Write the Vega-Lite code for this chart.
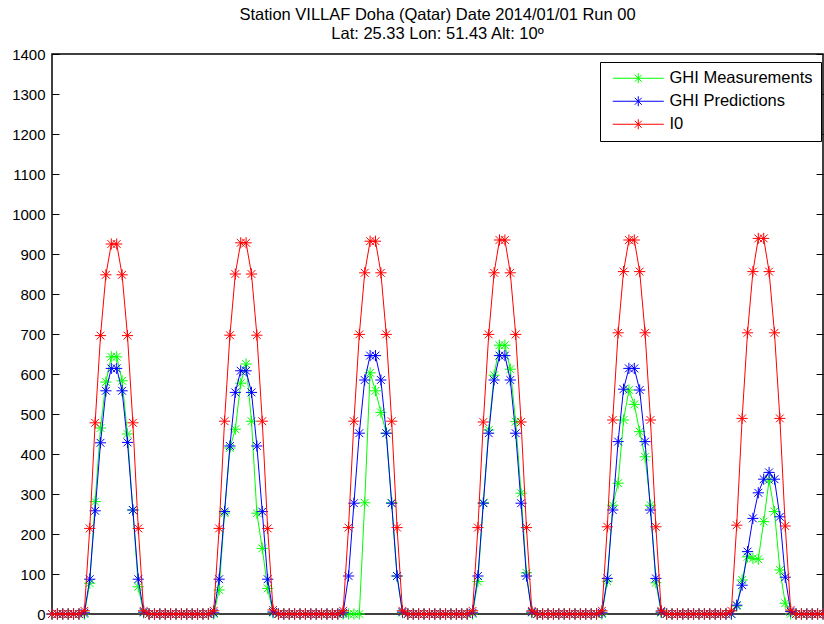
{
"$schema": "https://vega.github.io/schema/vega-lite/v6.json",
"width": 771,
"height": 560,
"autosize": "none",
"padding": {"left": 52, "top": 54, "right": 1, "bottom": 10},
"background": "white",
"config": {"view": {"stroke": "black", "strokeWidth": 1.5}, "font": "Liberation Sans"},
"title": {"text": ["Station VILLAF Doha (Qatar) Date 2014/01/01 Run 00", "Lat: 25.33 Lon: 51.43 Alt: 10º"], "anchor": "middle", "fontSize": 16.5, "fontWeight": "normal", "font": "Liberation Sans", "color": "black", "offset": 5, "lineHeight": 19},
"datasets": {
"meas": [{"t":1,"v":0},{"t":2,"v":0},{"t":3,"v":0},{"t":4,"v":0},{"t":5,"v":0},{"t":6,"v":0},
{"t":7,"v":0},{"t":8,"v":77},{"t":9,"v":281},{"t":10,"v":465},{"t":11,"v":580},{"t":12,"v":643},{"t":13,"v":643},{"t":14,"v":583},{"t":15,"v":450},{"t":16,"v":260},{"t":17,"v":68},{"t":18,"v":3},
{"t":19,"v":0},{"t":20,"v":0},{"t":21,"v":0},{"t":22,"v":0},{"t":23,"v":0},{"t":24,"v":0},{"t":25,"v":0},{"t":26,"v":0},{"t":27,"v":0},{"t":28,"v":0},{"t":29,"v":0},{"t":30,"v":0},
{"t":31,"v":0},{"t":32,"v":60},{"t":33,"v":252},{"t":34,"v":415},{"t":35,"v":462},{"t":36,"v":577},{"t":37,"v":625},{"t":38,"v":482},{"t":39,"v":252},{"t":40,"v":164},{"t":41,"v":64},{"t":42,"v":3},
{"t":43,"v":0},{"t":44,"v":0},{"t":45,"v":0},{"t":46,"v":0},{"t":47,"v":0},{"t":48,"v":0},{"t":49,"v":0},{"t":50,"v":0},{"t":51,"v":0},{"t":52,"v":0},{"t":53,"v":0},{"t":54,"v":0},
{"t":55,"v":0},{"t":56,"v":0},{"t":57,"v":0},{"t":58,"v":0},{"t":59,"v":278},{"t":60,"v":603},{"t":61,"v":558},{"t":62,"v":504},{"t":63,"v":452},{"t":64,"v":278},{"t":65,"v":95},{"t":66,"v":3},
{"t":67,"v":0},{"t":68,"v":0},{"t":69,"v":0},{"t":70,"v":0},{"t":71,"v":0},{"t":72,"v":0},{"t":73,"v":0},{"t":74,"v":0},{"t":75,"v":0},{"t":76,"v":0},{"t":77,"v":0},{"t":78,"v":0},
{"t":79,"v":0},{"t":80,"v":81},{"t":81,"v":278},{"t":82,"v":460},{"t":83,"v":597},{"t":84,"v":672},{"t":85,"v":672},{"t":86,"v":612},{"t":87,"v":481},{"t":88,"v":302},{"t":89,"v":103},{"t":90,"v":3},
{"t":91,"v":0},{"t":92,"v":0},{"t":93,"v":0},{"t":94,"v":0},{"t":95,"v":0},{"t":96,"v":0},{"t":97,"v":0},{"t":98,"v":0},{"t":99,"v":0},{"t":100,"v":0},{"t":101,"v":0},{"t":102,"v":0},
{"t":103,"v":0},{"t":104,"v":82},{"t":105,"v":272},{"t":106,"v":327},{"t":107,"v":485},{"t":108,"v":560},{"t":109,"v":524},{"t":110,"v":456},{"t":111,"v":393},{"t":112,"v":272},{"t":113,"v":78},{"t":114,"v":3},
{"t":115,"v":0},{"t":116,"v":0},{"t":117,"v":0},{"t":118,"v":0},{"t":119,"v":0},{"t":120,"v":0},{"t":121,"v":0},{"t":122,"v":0},{"t":123,"v":0},{"t":124,"v":0},{"t":125,"v":0},{"t":126,"v":0},
{"t":127,"v":0},{"t":128,"v":20},{"t":129,"v":85},{"t":130,"v":143},{"t":131,"v":139},{"t":132,"v":137},{"t":133,"v":231},{"t":134,"v":335},{"t":135,"v":256},{"t":136,"v":110},{"t":137,"v":27},{"t":138,"v":0},
{"t":139,"v":0},{"t":140,"v":0},{"t":141,"v":0},{"t":142,"v":0},{"t":143,"v":0},{"t":144,"v":0}],
"pred": [{"t":1,"v":0},{"t":2,"v":0},{"t":3,"v":0},{"t":4,"v":0},{"t":5,"v":0},{"t":6,"v":0},
{"t":7,"v":3},{"t":8,"v":87},{"t":9,"v":258},{"t":10,"v":428},{"t":11,"v":558},{"t":12,"v":614},{"t":13,"v":614},{"t":14,"v":558},{"t":15,"v":429},{"t":16,"v":260},{"t":17,"v":87},{"t":18,"v":5},
{"t":19,"v":0},{"t":20,"v":0},{"t":21,"v":0},{"t":22,"v":0},{"t":23,"v":0},{"t":24,"v":0},{"t":25,"v":0},{"t":26,"v":0},{"t":27,"v":0},{"t":28,"v":0},{"t":29,"v":0},{"t":30,"v":0},
{"t":31,"v":3},{"t":32,"v":87},{"t":33,"v":256},{"t":34,"v":420},{"t":35,"v":554},{"t":36,"v":608},{"t":37,"v":608},{"t":38,"v":554},{"t":39,"v":420},{"t":40,"v":256},{"t":41,"v":87},{"t":42,"v":5},
{"t":43,"v":0},{"t":44,"v":0},{"t":45,"v":0},{"t":46,"v":0},{"t":47,"v":0},{"t":48,"v":0},{"t":49,"v":0},{"t":50,"v":0},{"t":51,"v":0},{"t":52,"v":0},{"t":53,"v":0},{"t":54,"v":0},
{"t":55,"v":3},{"t":56,"v":95},{"t":57,"v":277},{"t":58,"v":452},{"t":59,"v":585},{"t":60,"v":646},{"t":61,"v":646},{"t":62,"v":585},{"t":63,"v":452},{"t":64,"v":277},{"t":65,"v":95},{"t":66,"v":5},
{"t":67,"v":0},{"t":68,"v":0},{"t":69,"v":0},{"t":70,"v":0},{"t":71,"v":0},{"t":72,"v":0},{"t":73,"v":0},{"t":74,"v":0},{"t":75,"v":0},{"t":76,"v":0},{"t":77,"v":0},{"t":78,"v":0},
{"t":79,"v":3},{"t":80,"v":95},{"t":81,"v":277},{"t":82,"v":452},{"t":83,"v":585},{"t":84,"v":646},{"t":85,"v":646},{"t":86,"v":585},{"t":87,"v":452},{"t":88,"v":277},{"t":89,"v":95},{"t":90,"v":5},
{"t":91,"v":0},{"t":92,"v":0},{"t":93,"v":0},{"t":94,"v":0},{"t":95,"v":0},{"t":96,"v":0},{"t":97,"v":0},{"t":98,"v":0},{"t":99,"v":0},{"t":100,"v":0},{"t":101,"v":0},{"t":102,"v":0},
{"t":103,"v":3},{"t":104,"v":89},{"t":105,"v":260},{"t":106,"v":431},{"t":107,"v":562},{"t":108,"v":614},{"t":109,"v":614},{"t":110,"v":560},{"t":111,"v":431},{"t":112,"v":260},{"t":113,"v":89},{"t":114,"v":5},
{"t":115,"v":0},{"t":116,"v":0},{"t":117,"v":0},{"t":118,"v":0},{"t":119,"v":0},{"t":120,"v":0},{"t":121,"v":0},{"t":122,"v":0},{"t":123,"v":0},{"t":124,"v":0},{"t":125,"v":0},{"t":126,"v":0},
{"t":127,"v":0},{"t":128,"v":22},{"t":129,"v":72},{"t":130,"v":156},{"t":131,"v":239},{"t":132,"v":303},{"t":133,"v":337},{"t":134,"v":354},{"t":135,"v":337},{"t":136,"v":243},{"t":137,"v":92},{"t":138,"v":6},
{"t":139,"v":0},{"t":140,"v":0},{"t":141,"v":0},{"t":142,"v":0},{"t":143,"v":0},{"t":144,"v":0}],
"i0": [{"t":1,"v":0},{"t":2,"v":0},{"t":3,"v":0},{"t":4,"v":0},{"t":5,"v":0},{"t":6,"v":0},
{"t":7,"v":8},{"t":8,"v":214},{"t":9,"v":478},{"t":10,"v":696},{"t":11,"v":848},{"t":12,"v":925},{"t":13,"v":925},{"t":14,"v":848},{"t":15,"v":696},{"t":16,"v":478},{"t":17,"v":214},{"t":18,"v":8},
{"t":19,"v":0},{"t":20,"v":0},{"t":21,"v":0},{"t":22,"v":0},{"t":23,"v":0},{"t":24,"v":0},{"t":25,"v":0},{"t":26,"v":0},{"t":27,"v":0},{"t":28,"v":0},{"t":29,"v":0},{"t":30,"v":0},
{"t":31,"v":8},{"t":32,"v":214},{"t":33,"v":482},{"t":34,"v":697},{"t":35,"v":850},{"t":36,"v":928},{"t":37,"v":928},{"t":38,"v":850},{"t":39,"v":697},{"t":40,"v":482},{"t":41,"v":214},{"t":42,"v":10},
{"t":43,"v":0},{"t":44,"v":0},{"t":45,"v":0},{"t":46,"v":0},{"t":47,"v":0},{"t":48,"v":0},{"t":49,"v":0},{"t":50,"v":0},{"t":51,"v":0},{"t":52,"v":0},{"t":53,"v":0},{"t":54,"v":0},
{"t":55,"v":8},{"t":56,"v":216},{"t":57,"v":482},{"t":58,"v":699},{"t":59,"v":853},{"t":60,"v":932},{"t":61,"v":932},{"t":62,"v":853},{"t":63,"v":699},{"t":64,"v":482},{"t":65,"v":216},{"t":66,"v":8},
{"t":67,"v":0},{"t":68,"v":0},{"t":69,"v":0},{"t":70,"v":0},{"t":71,"v":0},{"t":72,"v":0},{"t":73,"v":0},{"t":74,"v":0},{"t":75,"v":0},{"t":76,"v":0},{"t":77,"v":0},{"t":78,"v":0},
{"t":79,"v":8},{"t":80,"v":216},{"t":81,"v":480},{"t":82,"v":699},{"t":83,"v":853},{"t":84,"v":935},{"t":85,"v":935},{"t":86,"v":853},{"t":87,"v":699},{"t":88,"v":480},{"t":89,"v":216},{"t":90,"v":8},
{"t":91,"v":0},{"t":92,"v":0},{"t":93,"v":0},{"t":94,"v":0},{"t":95,"v":0},{"t":96,"v":0},{"t":97,"v":0},{"t":98,"v":0},{"t":99,"v":0},{"t":100,"v":0},{"t":101,"v":0},{"t":102,"v":0},
{"t":103,"v":8},{"t":104,"v":218},{"t":105,"v":485},{"t":106,"v":703},{"t":107,"v":856},{"t":108,"v":935},{"t":109,"v":935},{"t":110,"v":856},{"t":111,"v":703},{"t":112,"v":485},{"t":113,"v":218},{"t":114,"v":8},
{"t":115,"v":0},{"t":116,"v":0},{"t":117,"v":0},{"t":118,"v":0},{"t":119,"v":0},{"t":120,"v":0},{"t":121,"v":0},{"t":122,"v":0},{"t":123,"v":0},{"t":124,"v":0},{"t":125,"v":0},{"t":126,"v":0},
{"t":127,"v":8},{"t":128,"v":222},{"t":129,"v":489},{"t":130,"v":703},{"t":131,"v":856},{"t":132,"v":939},{"t":133,"v":939},{"t":134,"v":856},{"t":135,"v":703},{"t":136,"v":489},{"t":137,"v":220},{"t":138,"v":10},
{"t":139,"v":0},{"t":140,"v":0},{"t":141,"v":0},{"t":142,"v":0},{"t":143,"v":0},{"t":144,"v":0}]
},
"resolve": {"scale": {"y": "shared", "x": "shared", "color": "shared"}, "axis": {"y": "independent"}},
"layer": [
{"data": {"name": "meas"}, "mark": {"type": "line", "strokeWidth": 1, "clip": false},
 "encoding": {
  "x": {"field": "t", "type": "quantitative", "scale": {"domain": [1, 144], "nice": false, "zero": false}, "axis": null},
  "y": {"field": "v", "type": "quantitative", "scale": {"domain": [0, 1400], "nice": false}, "axis": {"orient": "left", "values": [0,100,200,300,400,500,600,700,800,900,1000,1100,1200,1300,1400], "format": "d", "title": null, "domain": false, "grid": false, "tickSize": -7, "tickColor": "black", "tickWidth": 1, "labelPadding": 14, "labelFontSize": 15, "labelFont": "Liberation Sans", "labelColor": "black", "labelFlush": false, "labelOverlap": false}},
  "color": {"datum": "GHI Measurements", "type": "nominal", "scale": {"domain": ["GHI Measurements", "GHI Predictions", "I0"], "range": ["#00ff00", "#0000ff", "#ff0000"]},
   "legend": {"title": null, "orient": "none", "legendX": 548, "legendY": 8, "symbolType": "M-5.1,0H5.1M0,-1V1M-0.7,-0.7L0.7,0.7M-0.7,0.7L0.7,-0.7", "symbolSize": 100, "symbolStrokeWidth": 1, "symbolFillColor": "transparent", "symbolOffset": 22, "labelOffset": 23, "labelFontSize": 16.5, "labelFont": "Liberation Sans", "labelColor": "black", "strokeColor": "black", "fillColor": "white", "padding": 8, "rowPadding": 6, "cornerRadius": 0}}
 }},
{"data": {"name": "meas"}, "mark": {"type": "point", "shape": "M-1,0H1M0,-1V1M-0.7,-0.7L0.7,0.7M-0.7,0.7L0.7,-0.7", "size": 125, "filled": false, "strokeWidth": 1, "opacity": 1, "clip": false},
 "encoding": {"x": {"field": "t", "type": "quantitative"}, "y": {"field": "v", "type": "quantitative", "axis": null}, "color": {"datum": "GHI Measurements", "type": "nominal"}}},
{"data": {"name": "pred"}, "mark": {"type": "line", "strokeWidth": 1, "clip": false},
 "encoding": {"x": {"field": "t", "type": "quantitative"}, "y": {"field": "v", "type": "quantitative", "axis": null}, "color": {"datum": "GHI Predictions", "type": "nominal"}}},
{"data": {"name": "pred"}, "mark": {"type": "point", "shape": "M-1,0H1M0,-1V1M-0.7,-0.7L0.7,0.7M-0.7,0.7L0.7,-0.7", "size": 125, "filled": false, "strokeWidth": 1, "opacity": 1, "clip": false},
 "encoding": {"x": {"field": "t", "type": "quantitative"}, "y": {"field": "v", "type": "quantitative", "axis": null}, "color": {"datum": "GHI Predictions", "type": "nominal"}}},
{"data": {"name": "i0"}, "mark": {"type": "line", "strokeWidth": 1, "clip": false},
 "encoding": {"x": {"field": "t", "type": "quantitative"}, "y": {"field": "v", "type": "quantitative", "axis": {"orient": "right", "values": [0,100,200,300,400,500,600,700,800,900,1000,1100,1200,1300,1400], "title": null, "domain": false, "grid": false, "labels": false, "tickSize": -7, "tickColor": "black", "tickWidth": 1}}, "color": {"datum": "I0", "type": "nominal"}}},
{"data": {"name": "i0"}, "mark": {"type": "point", "shape": "M-1,0H1M0,-1V1M-0.7,-0.7L0.7,0.7M-0.7,0.7L0.7,-0.7", "size": 125, "filled": false, "strokeWidth": 1, "opacity": 1, "clip": false},
 "encoding": {"x": {"field": "t", "type": "quantitative"}, "y": {"field": "v", "type": "quantitative", "axis": null}, "color": {"datum": "I0", "type": "nominal"}}}
]
}
